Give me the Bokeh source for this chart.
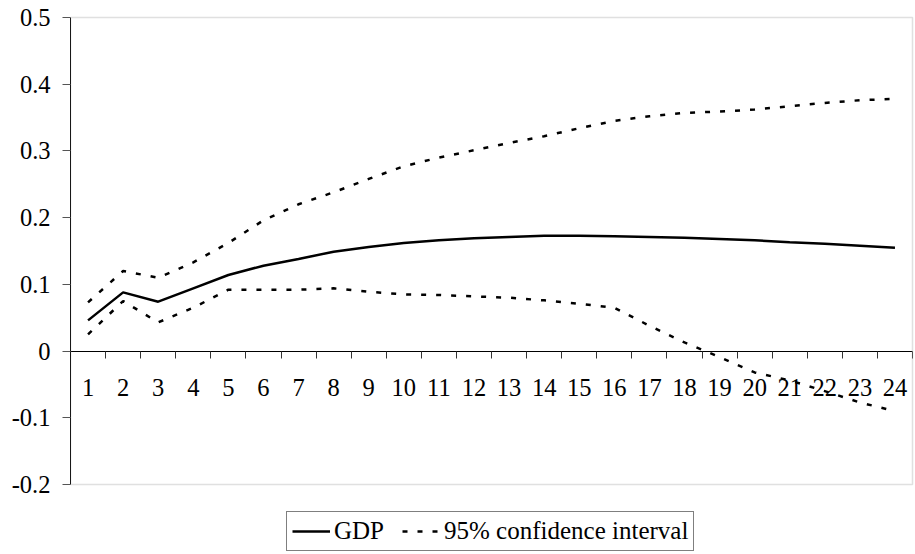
from bokeh.plotting import figure
from bokeh.models import Range1d, LinearAxis, FixedTicker, Legend, LegendItem, BoxAnnotation
from bokeh.embed import file_html
from bokeh.resources import INLINE

# ---- data ----
periods = list(range(1, 25))
period_labels = [str(i) for i in periods]
gdp = [0.046, 0.088, 0.074, 0.094, 0.114, 0.128, 0.138, 0.149, 0.156, 0.162, 0.166, 0.169,
       0.171, 0.173, 0.173, 0.172, 0.171, 0.170, 0.168, 0.166, 0.163, 0.161, 0.158, 0.155]
ci_upper = [0.073, 0.120, 0.110, 0.133, 0.162, 0.196, 0.220, 0.238, 0.258, 0.277, 0.290, 0.301,
            0.312, 0.322, 0.334, 0.345, 0.352, 0.357, 0.359, 0.362, 0.367, 0.372, 0.376, 0.378]
ci_lower = [0.025, 0.075, 0.043, 0.065, 0.092, 0.092, 0.092, 0.094, 0.089, 0.085, 0.084, 0.082,
            0.080, 0.076, 0.071, 0.065, 0.038, 0.013, -0.009, -0.032, -0.044, -0.060, -0.077, -0.090]
y_ticks = [-0.2, -0.1, 0, 0.1, 0.2, 0.3, 0.4, 0.5]
y_tick_labels = ["-0.2", "-0.1", "0", "0.1", "0.2", "0.3", "0.4", "0.5"]
series_names = ["GDP", "95% confidence interval"]

FONT = "'Liberation Serif', 'Times New Roman', serif"
FS_AXIS = "24.5px"
FS_LEG = "25px"

# ---- layout (pixels) ----
W, H = 915, 554
LEFT, TOP = 70, 10
PLOT_W, PLOT_H = 842, 467          # pixel size of the bordered plot box
BOX_TOP_OFFSET = 7                  # box top below the frame top
x_lo, x_hi = periods[0] - 0.5, periods[-1] + 0.5
y_lo, y_hi = y_ticks[0], y_ticks[-1]
px_x = (x_hi - x_lo) / PLOT_W
px_y = (y_hi - y_lo) / PLOT_H
frame_w = W - LEFT
frame_h = H - TOP
x_end = x_lo + frame_w * px_x
y_end = y_hi + BOX_TOP_OFFSET * px_y
y_start = y_end - frame_h * px_y

p = figure(width=W, height=H, output_backend="svg", toolbar_location=None,
           x_range=Range1d(x_lo, x_end), y_range=Range1d(y_start, y_end),
           x_axis_location=None, y_axis_location=None,
           min_border_left=LEFT, min_border_right=0, min_border_top=TOP, min_border_bottom=0)
p.xgrid.grid_line_color = None
p.ygrid.grid_line_color = None
p.outline_line_color = None
p.background_fill_color = "white"
p.border_fill_color = "white"

# gray plot-area border
p.add_layout(BoxAnnotation(left=x_lo, right=x_hi, bottom=y_lo, top=y_hi,
                           fill_alpha=0, line_color="#999999", line_width=1.5))

# y axis
yaxis = LinearAxis(ticker=FixedTicker(ticks=y_ticks), bounds=(y_lo, y_hi),
                   major_label_overrides={t: s for t, s in zip(y_ticks, y_tick_labels)})
yaxis.axis_line_color = "black"
yaxis.axis_line_width = 1
yaxis.major_tick_line_color = "#555555"
yaxis.major_tick_in = 0
yaxis.major_tick_out = 8
yaxis.minor_tick_line_color = None
yaxis.major_label_standoff = 12
yaxis.major_label_text_font = FONT
yaxis.major_label_text_font_size = FS_AXIS
yaxis.major_label_text_color = "black"
p.add_layout(yaxis, "left")

# x axis (line + ticks) at y = 0, ticks between categories
x_tick_axis = LinearAxis(fixed_location=0, bounds=(x_lo, x_hi),
                         ticker=FixedTicker(ticks=[k + 0.5 for k in periods]))
x_tick_axis.axis_line_color = "black"
x_tick_axis.axis_line_width = 1
x_tick_axis.major_tick_line_color = "#333333"
x_tick_axis.major_tick_in = 0
x_tick_axis.major_tick_out = 7
x_tick_axis.minor_tick_line_color = None
x_tick_axis.major_label_text_color = None
p.add_layout(x_tick_axis, "below")

# x axis labels at category centres
x_label_axis = LinearAxis(fixed_location=0, ticker=FixedTicker(ticks=periods),
                          major_label_overrides={k: s for k, s in zip(periods, period_labels)})
x_label_axis.axis_line_color = None
x_label_axis.major_tick_line_color = None
x_label_axis.minor_tick_line_color = None
x_label_axis.major_label_standoff = 22
x_label_axis.major_label_text_font = FONT
x_label_axis.major_label_text_font_size = FS_AXIS
x_label_axis.major_label_text_color = "black"
p.add_layout(x_label_axis, "below")

DASH = "5 10"
r_gdp = p.line(periods, gdp, line_color="black", line_width=2.5)
r_up = p.line(periods, ci_upper, line_color="black", line_width=2.5, line_dash=DASH)
r_lo = p.line(periods, ci_lower, line_color="black", line_width=2.5, line_dash=DASH)

legend = Legend(items=[LegendItem(label=series_names[0], renderers=[r_gdp]),
                       LegendItem(label=series_names[1], renderers=[r_up])],
                location=(216, 3), orientation="horizontal",
                border_line_color="black", border_line_width=1,
                background_fill_color="white", background_fill_alpha=1,
                label_text_font=FONT, label_text_font_size=FS_LEG, label_text_color="black",
                glyph_width=38, glyph_height=20, label_standoff=4, spacing=18,
                padding=5, margin=0)
p.add_layout(legend, "center")

open("out.html", "w").write(file_html(p, INLINE))
